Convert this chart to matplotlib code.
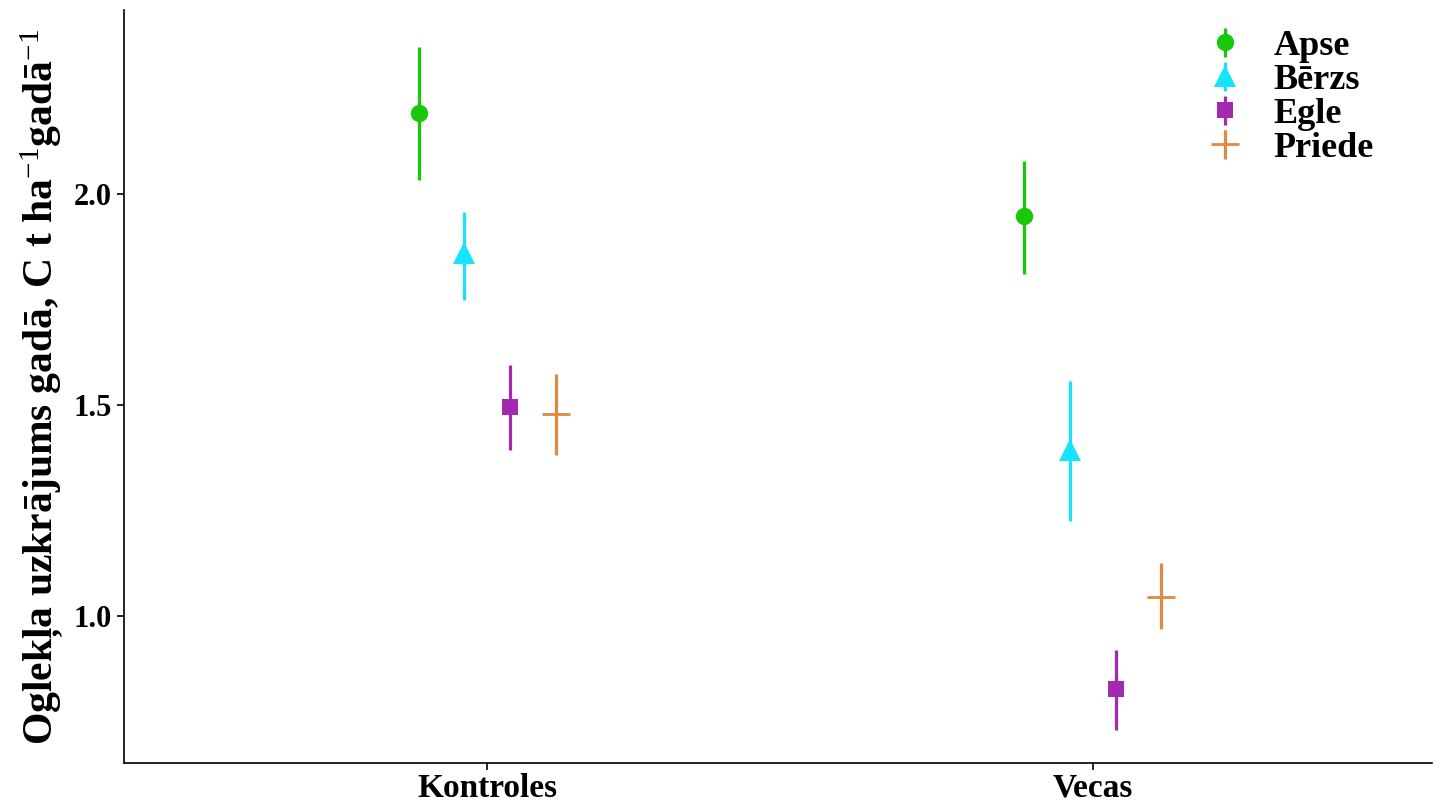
import matplotlib.pyplot as plt
from matplotlib.legend_handler import HandlerErrorbar
import numpy as np

plt.rcParams['font.family'] = ['Liberation Serif', 'DejaVu Serif']
plt.rcParams['font.weight'] = 'bold'
plt.rcParams['mathtext.fontset'] = 'custom'
plt.rcParams['mathtext.rm'] = 'Liberation Serif:normal'
plt.rcParams['mathtext.default'] = 'rm'

grupas = ['Kontroles', 'Vecas']
sugas = ['Apse', 'Bērzs', 'Egle', 'Priede']

# vidējais un intervāla robežas katrai sugai (Kontroles, Vecas)
vid = {
    'Apse': [2.192, 1.948],
    'Bērzs': [1.860, 1.394],
    'Egle': [1.496, 0.827],
    'Priede': [1.479, 1.046],
}
apaksa = {
    'Apse': [2.033, 1.811],
    'Bērzs': [1.749, 1.225],
    'Egle': [1.393, 0.730],
    'Priede': [1.381, 0.969],
}
augsa = {
    'Apse': [2.349, 2.079],
    'Bērzs': [1.958, 1.557],
    'Egle': [1.595, 0.919],
    'Priede': [1.573, 1.125],
}

krasas = {'Apse': '#19C80A', 'Bērzs': '#16E4FF', 'Egle': '#A32AB0', 'Priede': '#E08940'}
markieri = {'Apse': 'o', 'Bērzs': '^', 'Egle': 's', 'Priede': '+'}
izmers = {'Apse': 12.5, 'Bērzs': 15.5, 'Egle': 12, 'Priede': 20}

fig = plt.figure(figsize=(14.4, 8.05), dpi=100)
ax = fig.add_axes([124 / 1440, 1 - 763 / 805, (1432 - 124) / 1440, (763 - 10) / 805])

x = np.arange(1, len(grupas) + 1)
nobide = [-0.113, -0.038, 0.038, 0.113]
for i, s in enumerate(sugas):
    y = np.array(vid[s])
    err = [y - np.array(apaksa[s]), np.array(augsa[s]) - y]
    ax.errorbar(x + nobide[i], y, yerr=err, fmt=markieri[s], color=krasas[s],
                ecolor=krasas[s], elinewidth=2.3, capsize=0, markersize=izmers[s],
                markeredgewidth=2 if s == 'Priede' else 0, label=s)

ax.set_xlim(0.4, 2.56)
ax.set_ylim(0.652, 2.436)
ax.set_xticks(x)
ax.set_xticklabels(grupas, fontsize=24, fontweight='bold')
ax.set_yticks([1.0, 1.5, 2.0])
ax.set_yticklabels(['1.0', '1.5', '2.0'], fontsize=22, fontweight='bold')
ax.tick_params(length=5, width=1.2, colors='black', pad=4)
ax.tick_params(axis='x', pad=2)
ax.spines['top'].set_visible(False)
ax.spines['right'].set_visible(False)
ax.spines['left'].set_linewidth(1.2)
ax.spines['bottom'].set_linewidth(1.2)
ax.set_ylabel(r'Oglekļa uzkrājums gadā, C t ha$^{-1}$gadā$^{-1}$',
              fontsize=30, fontweight='bold', labelpad=5)

ax.legend(loc='upper left', bbox_to_anchor=(1192 / 1440, 1 - 15 / 805),
          bbox_transform=fig.transFigure, frameon=False, fontsize=26,
          handlelength=1.0, handletextpad=0.85, labelspacing=0.02, borderaxespad=0,
          handler_map={type(ax.containers[0]): HandlerErrorbar(yerr_size=0.4)})

plt.savefig('out.png', dpi=100)
